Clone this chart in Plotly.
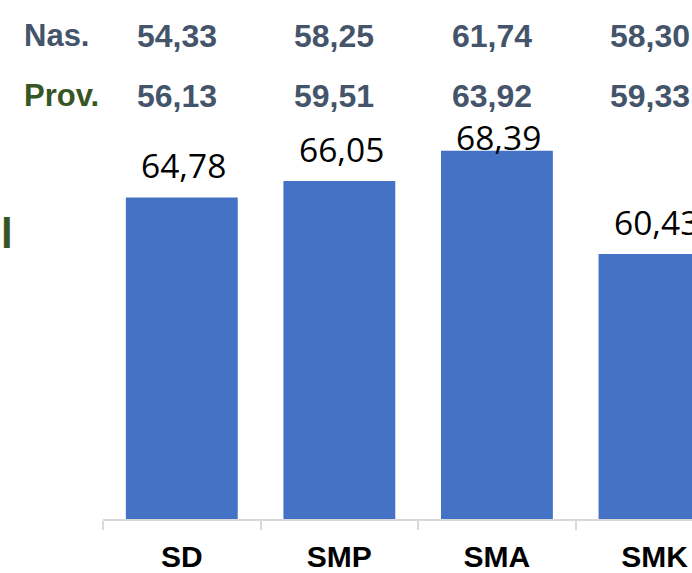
import plotly.graph_objects as go

categories = ["SD", "SMP", "SMA", "SMK"]
values = [64.78, 66.05, 68.39, 60.43]
nas_values = [54.33, 58.25, 61.74, 58.30]
prov_values = [56.13, 59.51, 63.92, 59.33]
row_labels = ["Nas.", "Prov."]

def fmt(v):
    return f"{v:.2f}".replace(".", ",")

BAR = "#4472C4"
SLATE = "#44546A"
GREEN = "#375623"

fig = go.Figure()
fig.add_trace(go.Bar(
    x=categories, y=values, marker_color=BAR, marker_line_width=0,
    hoverinfo="skip", showlegend=False,
))

ann = []
label_shift = {"SMA": 14}
for c, v in zip(categories, values):
    ann.append(dict(
        x=c, y=v, xref="x", yref="y", text=fmt(v), showarrow=False,
        yanchor="middle", yshift=label_shift.get(c, 32), xshift=2,
        font=dict(family="Open Sans", size=33.5, color="black"),
    ))

for row, (vals, ypx) in enumerate([(nas_values, 36), (prov_values, 96)]):
    for c, v in zip(categories, vals):
        ann.append(dict(
            x=c, y=1 - ypx / 521, xref="x", yref="paper", text=f"<b>{fmt(v)}</b>",
            showarrow=False, xanchor="center", yanchor="middle", xshift=-5,
            font=dict(family="Liberation Sans", size=32, color=SLATE),
        ))

for lab, ypx, col in [(row_labels[0], 36, SLATE), (row_labels[1], 96, GREEN)]:
    ann.append(dict(
        x=(22 - 103) / 589, y=1 - ypx / 521, xref="paper", yref="paper",
        text=f"<b>{lab}</b>", showarrow=False, xanchor="left", yanchor="middle",
        font=dict(family="Liberation Sans", size=31, color=col),
    ))

ann.append(dict(
    x=(-1 - 103) / 589, y=1 - 234 / 521, xref="paper", yref="paper",
    text="<b>l</b>", showarrow=False, xanchor="left", yanchor="middle",
    font=dict(family="Liberation Sans", size=42, color=GREEN),
))

fig.update_layout(
    width=692, height=573,
    margin=dict(l=103, r=0, t=0, b=52),
    paper_bgcolor="white", plot_bgcolor="white",
    bargap=0.29,
    annotations=ann,
    xaxis=dict(
        range=[-0.5, 3.238], showgrid=False, zeroline=False,
        showline=True, linecolor="#D9D9D9", linewidth=1.5,
        ticks="outside", tickson="boundaries", ticklen=9, tickcolor="#D9D9D9", tickwidth=1.5,
        tickfont=dict(family="Liberation Sans", size=30, color="black"),
        tickprefix="<b>", ticksuffix="</b>", ticklabelstandoff=10,
    ),
    yaxis=dict(range=[40, 80], visible=False, showgrid=False, zeroline=False),
)

fig.write_html(
    "out.html",
    config={"displayModeBar": False},
    post_script="document.body.style.margin='0';document.body.style.overflow='hidden';",
)
